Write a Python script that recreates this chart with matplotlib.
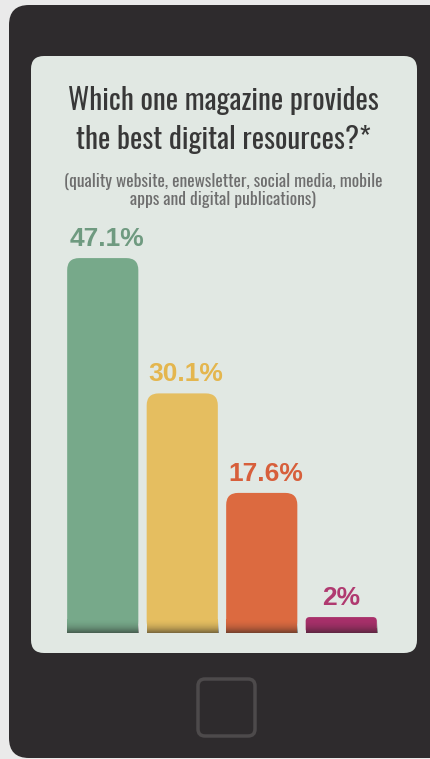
import numpy as np
import matplotlib
matplotlib.use('Agg')
import matplotlib.pyplot as plt
from matplotlib.patches import FancyBboxPatch, Rectangle

# data
categories = ['A', 'B', 'C', 'D']
values = [47.1, 30.1, 17.6, 2.0]
labels = ['47.1%', '30.1%', '17.6%', '2%']
bar_colors = ['#77a98a', '#e5be60', '#dc6a40', '#a8306a']
label_colors = ['#6f9a80', '#e4b64e', '#d75f3b', '#b03a70']
title = 'Which one magazine provides\nthe best digital resources?*'
subtitle = '(quality website, enewsletter, social media, mobile\napps and digital publications)'

W, H = 431, 759
fig = plt.figure(figsize=(W / 100, H / 100), dpi=100)
fig.patch.set_facecolor('#eaeaea')

# background axes in pixel coords (y down)
bg = fig.add_axes([0, 0, 1, 1])
bg.set_xlim(0, W)
bg.set_ylim(H, 0)
bg.axis('off')

phone = FancyBboxPatch((9, 5), 440, 753, boxstyle='round,pad=0,rounding_size=20',
                       fc='#2e2b2d', ec='none')
bg.add_patch(phone)
screen = FancyBboxPatch((31, 56), 386, 597, boxstyle='round,pad=0,rounding_size=13',
                        fc='#e1e8e3', ec='none')
bg.add_patch(screen)
button = FancyBboxPatch((198, 679), 57, 57, boxstyle='round,pad=0,rounding_size=7',
                        fc='none', ec='#4d4a4b', lw=2.5)
bg.add_patch(button)

narrow = ['Oswald', 'DejaVu Sans']
bg.text(223, 120, title, ha='center', va='center', fontsize=21, color='#383838',
        family=narrow, fontweight='light', linespacing=1.45)
bg.text(223, 190, subtitle, ha='center', va='center', fontsize=12.6, color='#6e6e6e',
        family=narrow, fontweight='light', linespacing=1.05)

# bar axes
px_per_unit = 7.96
bottom_px, left_px, right_px = 633, 63, 381
top_val = 50
top_px = bottom_px - top_val * px_per_unit
ax = fig.add_axes([left_px / W, 1 - bottom_px / H, (right_px - left_px) / W,
                   (bottom_px - top_px) / H])
ax.set_xlim(-0.5, len(values) - 0.5)
ax.set_ylim(0, top_val)
ax.axis('off')

x = np.arange(len(values))
bw = 0.895
unit_x_px = (right_px - left_px) / len(values)
aspect = unit_x_px / px_per_unit

grad = np.linspace(0, 1, 64).reshape(-1, 1)
for xi, v, c, lc, lab in zip(x, values, bar_colors, label_colors, labels):
    r_px = min(12, v * px_per_unit * 0.25)
    rs = r_px / unit_x_px
    p = FancyBboxPatch((xi - bw / 2, 0), bw, v,
                       boxstyle='round,pad=0,rounding_size=%f' % rs,
                       mutation_aspect=aspect, fc=c, ec='none')
    ax.add_patch(p)
    ax.add_patch(Rectangle((xi - bw / 2, 0), bw, min(v, r_px / px_per_unit * 1.2),
                           fc=c, ec='none'))
    # soft dark shadow at the foot of each bar
    sh = min(v, 1.8)
    shade = np.zeros((64, 1, 4))
    shade[..., 0:3] = 0.12
    shade[..., 3] = (grad ** 2.2) * 0.55
    ax.imshow(shade, extent=[xi - bw / 2, xi + bw / 2, 0, sh], aspect='auto',
              origin='upper', zorder=3, interpolation='bilinear')
    ax.text(xi + (0.05 if v > 5 else 0.0), v + 0.9, lab, ha='center', va='bottom',
            fontsize=19, fontweight='bold', color=lc,
            family=['Liberation Sans', 'DejaVu Sans'])

ax.set_ylim(0, top_val)
ax.set_xlim(-0.5, len(values) - 0.5)

fig.savefig('out.png', dpi=100, facecolor=fig.get_facecolor())
